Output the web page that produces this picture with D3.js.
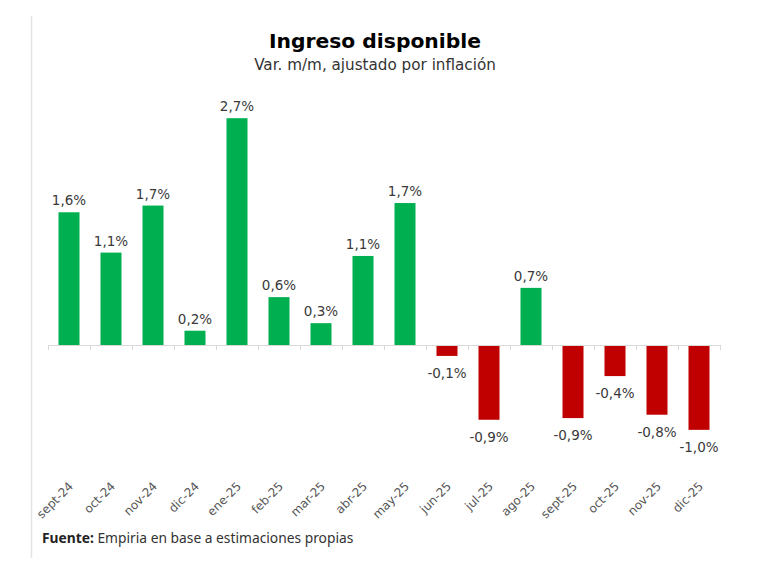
<!DOCTYPE html>
<html>
<head>
<meta charset="utf-8">
<script src="https://cdn.jsdelivr.net/npm/d3@7"></script>
<style>
  html, body { margin: 0; padding: 0; background: #fff; }
  svg { display: block; }
</style>
</head>
<body>
<svg id="chart" width="780" height="582"></svg>
<script>
// data
const categories = ["sept-24", "oct-24", "nov-24", "dic-24", "ene-25", "feb-25", "mar-25", "abr-25",
  "may-25", "jun-25", "jul-25", "ago-25", "sept-25", "oct-25", "nov-25", "dic-25"];
const values = [1.58, 1.1, 1.66, 0.17, 2.7, 0.57, 0.26, 1.06, 1.69, -0.13, -0.89, 0.68, -0.87, -0.37, -0.83, -1.01];

const title = "Ingreso disponible";
const subtitle = "Var. m/m, ajustado por inflación";
const sourceLabel = "Fuente:";
const sourceText = "Empiria en base a estimaciones propias";

const data = categories.map((c, i) => ({ cat: c, value: values[i] }));

const svg = d3.select("#chart");
const font = "'DejaVu Sans', Verdana, sans-serif";

const x = d3.scaleBand().domain(categories).range([48, 720]).paddingInner(0.5).paddingOuter(0.25);
const y = d3.scaleLinear().domain([-1.5, 3]).range([471, 93]);
const fmt = (v) => d3.format(".1f")(v).replace(".", ",").replace("−", "-") + "%";

// left frame line
svg.append("line")
  .attr("x1", 31.5).attr("x2", 31.5).attr("y1", 16).attr("y2", 558)
  .attr("stroke", "#e3e3e3").attr("stroke-width", 1.5);

// titles
svg.append("text")
  .attr("x", 375).attr("y", 48)
  .attr("text-anchor", "middle")
  .attr("font-family", font).attr("font-weight", "bold").attr("font-size", 20.3)
  .attr("fill", "#000")
  .text(title);
svg.append("text")
  .attr("x", 375).attr("y", 70)
  .attr("text-anchor", "middle")
  .attr("font-family", font).attr("font-size", 15.2)
  .attr("fill", "#333")
  .text(subtitle);

// bars
svg.append("g").selectAll("rect").data(data).join("rect")
  .attr("x", (d) => x(d.cat))
  .attr("width", x.bandwidth())
  .attr("y", (d) => y(Math.max(0, d.value)))
  .attr("height", (d) => Math.abs(y(d.value) - y(0)))
  .attr("fill", (d) => (d.value >= 0 ? "#00b050" : "#c00000"));

// zero axis with category-boundary ticks
const axis = svg.append("g").attr("stroke", "#d9d9d9").attr("stroke-width", 1);
axis.append("line")
  .attr("x1", 48).attr("x2", 720).attr("y1", y(0) + 0.5).attr("y2", y(0) + 0.5);
axis.selectAll("line.tick").data(d3.range(categories.length + 1)).join("line")
  .attr("class", "tick")
  .attr("x1", (i) => 48 + i * x.step() + 0.5).attr("x2", (i) => 48 + i * x.step() + 0.5)
  .attr("y1", y(0)).attr("y2", y(0) + 5);

// value labels
svg.append("g").selectAll("text").data(data).join("text")
  .attr("x", (d) => x(d.cat) + x.bandwidth() / 2)
  .attr("y", (d) => (d.value >= 0 ? y(d.value) - 7 : y(d.value) + 22))
  .attr("text-anchor", "middle")
  .attr("font-family", font).attr("font-size", 13.5)
  .attr("fill", "#3a3a3a")
  .text((d) => fmt(d.value));

// category labels, rotated
svg.append("g").selectAll("text").data(data).join("text")
  .attr("transform", (d) => `translate(${x(d.cat) + x.bandwidth() / 2 + 5},${487}) rotate(-45)`)
  .attr("text-anchor", "end")
  .attr("font-family", font).attr("font-size", 12)
  .attr("fill", "#555")
  .text((d) => d.cat);

// source note
const src = svg.append("text")
  .attr("x", 42).attr("y", 543)
  .attr("font-family", "'Noto Sans', 'Open Sans', sans-serif").attr("font-size", 13.8)
  .attr("fill", "#333");
src.append("tspan").attr("font-weight", "bold").attr("fill", "#222").text(sourceLabel);
src.append("tspan").text(" " + sourceText);
</script>
</body>
</html>
